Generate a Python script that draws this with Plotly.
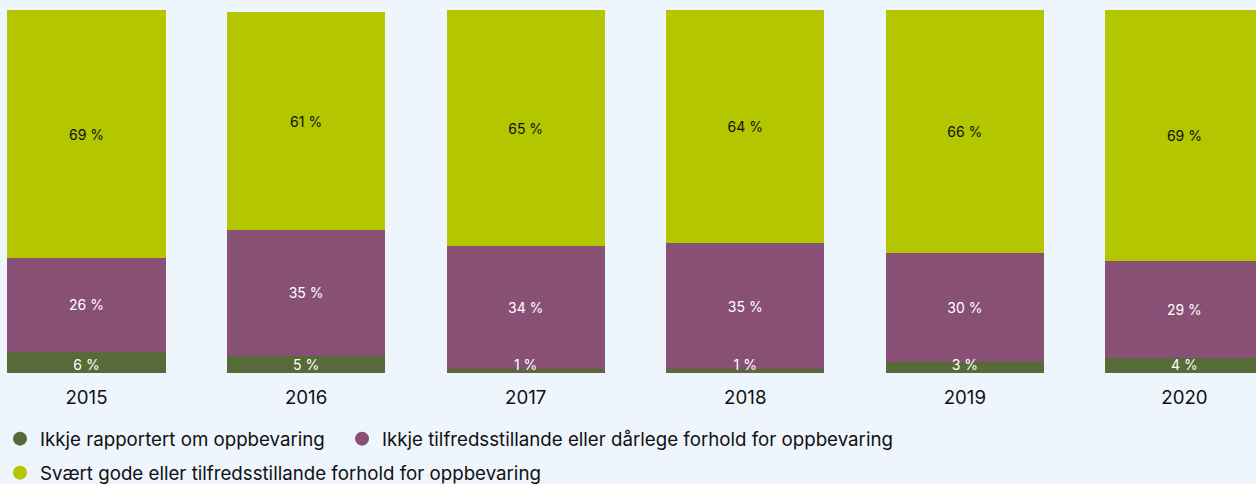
import plotly.graph_objects as go

# Share of archives, by year
years = ["2015", "2016", "2017", "2018", "2019", "2020"]

ikkje_rapportert = [5.9, 4.8, 1.0, 1.0, 2.9, 4.1]
ikkje_tilfreds = [25.7, 34.5, 33.9, 34.8, 30.3, 26.7]
svaert_gode = [68.4, 60.1, 65.1, 64.2, 66.8, 69.2]

lbl_rapportert = ["6 %", "5 %", "1 %", "1 %", "3 %", "4 %"]
lbl_tilfreds = ["26 %", "35 %", "34 %", "35 %", "30 %", "29 %"]
lbl_gode = ["69 %", "61 %", "65 %", "64 %", "66 %", "69 %"]

names = [
    "Ikkje rapportert om oppbevaring",
    "Ikkje tilfredsstillande eller dårlege forhold for oppbevaring",
    "Svært gode eller tilfredsstillande forhold for oppbevaring",
]

DARK_GREEN = "#566b37"
PURPLE = "#895075"
LIME = "#b3c600"
BG = "#eef5fc"
FONT = "Inter, Roboto, sans-serif"
colors = [DARK_GREEN, PURPLE, LIME]

fig = go.Figure()

# stacked bars; the thin green segments get their labels from a text trace below
fig.add_trace(go.Bar(
    x=years, y=ikkje_rapportert, name=names[0],
    marker=dict(color=DARK_GREEN, line_width=0),
    width=0.72, showlegend=False, hoverinfo="skip",
))
fig.add_trace(go.Bar(
    x=years, y=ikkje_tilfreds, name=names[1],
    text=lbl_tilfreds, textposition="inside", insidetextanchor="middle",
    textangle=0, textfont=dict(family=FONT, size=14, color="white"),
    marker=dict(color=PURPLE, line_width=0),
    width=0.72, showlegend=False, hoverinfo="skip",
))
fig.add_trace(go.Bar(
    x=years, y=svaert_gode, name=names[2],
    text=lbl_gode, textposition="inside", insidetextanchor="middle",
    textangle=0, textfont=dict(family=FONT, size=14, color="#111111"),
    marker=dict(color=LIME, line_width=0),
    width=0.72, showlegend=False, hoverinfo="skip",
))

# labels for the green segment, sitting on the base of each bar
fig.add_trace(go.Scatter(
    x=years, y=[0] * len(years),
    mode="text", text=lbl_rapportert,
    textposition="top center",
    textfont=dict(family=FONT, size=14, color="white"),
    cliponaxis=False, showlegend=False, hoverinfo="skip",
))

# legend-only traces so the keys are round dots
legend_ids = ["legend", "legend2", "legend3"]
for name, color, lg in zip(names, colors, legend_ids):
    fig.add_trace(go.Scatter(
        x=[None], y=[None],
        mode="markers",
        name=name,
        marker=dict(color=color, size=14, symbol="circle"),
        legend=lg,
    ))

legend_font = dict(size=18.7, family=FONT, color="#111111")
legend_base = dict(
    orientation="h", xanchor="left", yref="container", yanchor="top",
    font=legend_font, bgcolor="rgba(0,0,0,0)", itemclick=False,
)

fig.update_layout(
    width=1256,
    height=484,
    barmode="stack",
    paper_bgcolor=BG,
    plot_bgcolor=BG,
    margin=dict(l=0, r=0, t=10, b=111),
    font=dict(family=FONT, color="#111111"),
    legend=dict(legend_base, x=0, y=0.1322),
    legend2=dict(legend_base, x=0.2723, y=0.1322),
    legend3=dict(legend_base, x=0, y=0.062),
)

fig.update_xaxes(
    type="category",
    range=[-0.394, 5.326],
    showgrid=False,
    zeroline=False,
    showline=False,
    ticks="outside",
    ticklen=8,
    tickcolor=BG,
    tickfont=dict(size=18.7, family=FONT, color="#111111"),
)
fig.update_yaxes(
    range=[0, 100.05],
    visible=False,
    showgrid=False,
    zeroline=False,
)

# page margin off so the figure fills the window edge to edge
fig.write_html(
    "out.html",
    config={"displayModeBar": False},
    post_script="document.body.style.margin='0';"
                "document.body.style.background='" + BG + "';",
)
